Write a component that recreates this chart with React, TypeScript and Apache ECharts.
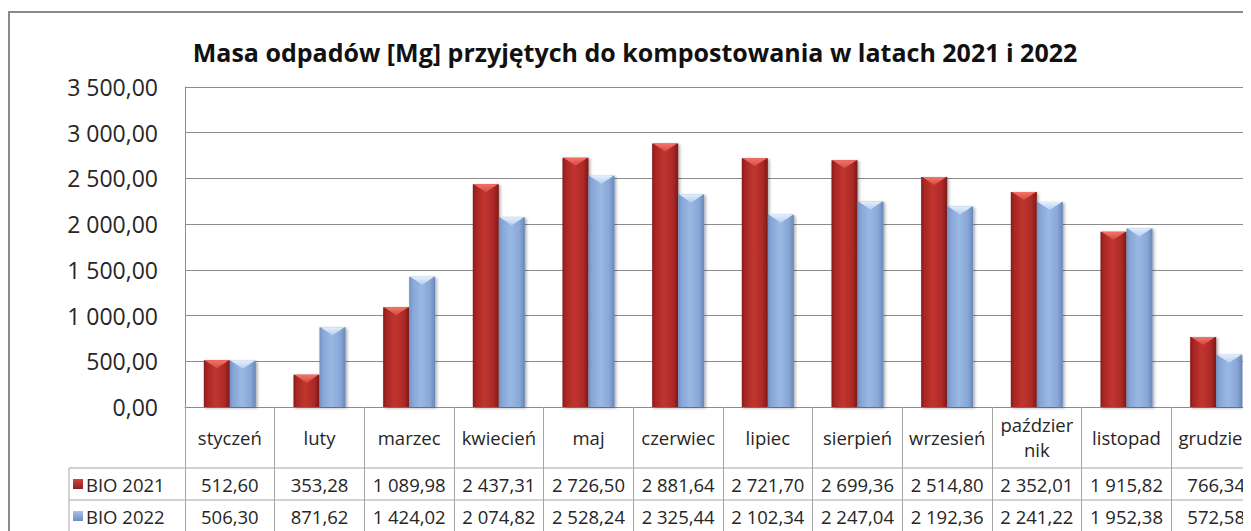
import React, { useEffect, useRef } from "react";
import * as echarts from "echarts";

const titleText = "Masa odpadów [Mg] przyjętych do kompostowania w latach 2021 i 2022";
const months = ["styczeń", "luty", "marzec", "kwiecień", "maj", "czerwiec", "lipiec", "sierpień", "wrzesień", "październik", "listopad", "grudzień"];
const seriesNames = ["BIO 2021", "BIO 2022"];
const bio2021 = [512.6, 353.28, 1089.98, 2437.31, 2726.5, 2881.64, 2721.7, 2699.36, 2514.8, 2352.01, 1915.82, 766.34];
const bio2022 = [506.3, 871.62, 1424.02, 2074.82, 2528.24, 2325.44, 2102.34, 2247.04, 2192.36, 2241.22, 1952.38, 572.58];
const yMin = 0;
const yMax = 3500;
const yStep = 500;

const FONT = "'Open Sans', sans-serif";
const TEXT = "#262626";
const LINE = "#8c8c8c";

function fmt(v: number): string {
  const [i, d] = v.toFixed(2).split(".");
  return i.replace(/\B(?=(\d{3})+(?!\d))/g, " ") + "," + d;
}

function wrapLabel(v: string): string {
  return v.length > 10 ? v.slice(0, 8) + "\n" + v.slice(8) : v;
}

const palettes = [
  {
    body: [
      [0, "#861a1a"], [0.12, "#a82624"], [0.45, "#c0352f"], [0.8, "#ac2a27"], [1, "#7e1818"],
    ],
    top: ["#f47468", "#d44a42"],
    key: ["#d04440", "#8e1f1f"],
  },
  {
    body: [
      [0, "#6f8ec0"], [0.12, "#86a5d6"], [0.45, "#9ab8e4"], [0.8, "#88a7d7"], [1, "#6787ba"],
    ],
    top: ["#e2eefc", "#b6cff0"],
    key: ["#a7c2ea", "#6f8ec0"],
  },
];

function grad(stops: any[], horizontal: boolean) {
  return new echarts.graphic.LinearGradient(0, 0, horizontal ? 1 : 0, horizontal ? 0 : 1,
    stops.map((s: any) => ({ offset: s[0], color: s[1] })));
}

function barSeries(k: number, values: number[]) {
  const pal = palettes[k];
  return {
    type: "custom",
    name: seriesNames[k],
    data: values.map((v, i) => [i, v]),
    encode: { x: 0, y: 1 },
    clip: false,
    renderItem: (params: any, api: any) => {
      const i = api.value(0);
      const v = api.value(1);
      const top = api.coord([i, v]);
      const base = api.coord([i, 0]);
      const band = api.size([1, 0])[0];
      const w = band * 0.29;
      const x0 = k === 0 ? top[0] - w : top[0];
      const h = base[1] - top[1];
      const bev = Math.min(8, h);
      return {
        type: "group",
        children: [
          {
            type: "rect",
            shape: { x: x0, y: top[1], width: w, height: h },
            style: {
              fill: grad(pal.body, true),
              shadowBlur: 3,
              shadowColor: "rgba(0,0,0,0.35)",
              shadowOffsetX: 1.5,
              shadowOffsetY: 1,
            },
          },
          {
            type: "polygon",
            shape: { points: [[x0 + 1, top[1]], [x0 + w - 1, top[1]], [x0 + w / 2, top[1] + bev]] },
            style: { fill: grad([[0, pal.top[0]], [1, pal.top[1]]], false) },
          },
        ],
      };
    },
  };
}

const tableSeries = {
  type: "custom",
  name: "table",
  data: months.map((_, i) => [i, 0]),
  encode: { x: 0, y: 1 },
  clip: false,
  silent: true,
  renderItem: (params: any, api: any) => {
    const i = api.value(0);
    const p = api.coord([i, 0]);
    const rows = [bio2021, bio2022];
    return {
      type: "group",
      children: rows.map((arr, r) => ({
        type: "text",
        x: p[0],
        y: p[1] + 77 + r * 32,
        style: {
          text: fmt(arr[i]),
          align: "center",
          verticalAlign: "middle",
          fontSize: 18.5,
          fontFamily: FONT,
          fill: TEXT,
        },
      })),
    };
  },
};

export default function App() {
  const ref = useRef<HTMLDivElement>(null);
  useEffect(() => {
    document.documentElement.style.overflow = "hidden";
    document.body.style.overflow = "hidden";
    const chart = echarts.init(ref.current!, undefined, { renderer: "svg" });
    const legendGraphics: any[] = [];
    seriesNames.forEach((name, r) => {
      const pal = palettes[r];
      legendGraphics.push({
        type: "rect",
        shape: { x: 65, y: 471 + r * 32, width: 10, height: 10 },
        style: { fill: grad([[0, pal.key[0]], [1, pal.key[1]]], false) },
      });
      legendGraphics.push({
        type: "text",
        x: 78,
        y: 476 + r * 32,
        style: { text: name, fontSize: 18.5, fontFamily: FONT, fill: TEXT, verticalAlign: "middle", align: "left" },
      });
    });
    chart.setOption({
      animation: false,
      backgroundColor: "#ffffff",
      grid: { left: 177, top: 79, right: 47, bottom: 124, containLabel: false },
      xAxis: {
        type: "category",
        data: months,
        boundaryGap: true,
        axisLine: { show: true, lineStyle: { color: LINE, width: 1 } },
        axisTick: { show: true, length: 124, interval: 0, lineStyle: { color: "#a6a6a6" } },
        axisLabel: {
          interval: 0,
          margin: 30,
          verticalAlign: "middle",
          fontSize: 18.5,
          lineHeight: 25,
          color: TEXT,
          fontFamily: FONT,
          formatter: (v: string) => wrapLabel(v),
        },
      },
      yAxis: {
        type: "value",
        min: yMin,
        max: yMax,
        interval: yStep,
        axisLine: { show: true, lineStyle: { color: LINE } },
        axisTick: { show: false },
        splitLine: { show: true, lineStyle: { color: LINE, width: 1 } },
        axisLabel: {
          margin: 27,
          fontSize: 23,
          color: TEXT,
          fontFamily: FONT,
          formatter: (v: number) => fmt(v),
        },
      },
      graphic: [
        {
          type: "rect",
          shape: { x: 1, y: 4, width: 1400, height: 700 },
          style: { fill: "none", stroke: "#8a8a8a", lineWidth: 2 },
          silent: true,
        },
        {
          type: "text",
          x: 627,
          y: 44,
          style: {
            text: titleText,
            align: "center",
            verticalAlign: "middle",
            fontSize: 25,
            fontWeight: "bold",
            fontFamily: FONT,
            fill: "#111",
          },
        },
        { type: "line", shape: { x1: 61, y1: 460, x2: 1300, y2: 460 }, style: { stroke: "#a6a6a6", lineWidth: 1 } },
        { type: "line", shape: { x1: 61, y1: 492, x2: 1300, y2: 492 }, style: { stroke: "#a6a6a6", lineWidth: 1 } },
        { type: "line", shape: { x1: 61, y1: 460, x2: 61, y2: 523 }, style: { stroke: "#a6a6a6", lineWidth: 1 } },
        ...legendGraphics,
      ],
      series: [barSeries(0, bio2021), barSeries(1, bio2022), tableSeries],
    });
    return () => chart.dispose();
  }, []);
  return (
    <div style={{ width: 1243, height: 523, overflow: "hidden", position: "relative" }}>
      <div ref={ref} style={{ width: 1300, height: 523 }} />
    </div>
  );
}
